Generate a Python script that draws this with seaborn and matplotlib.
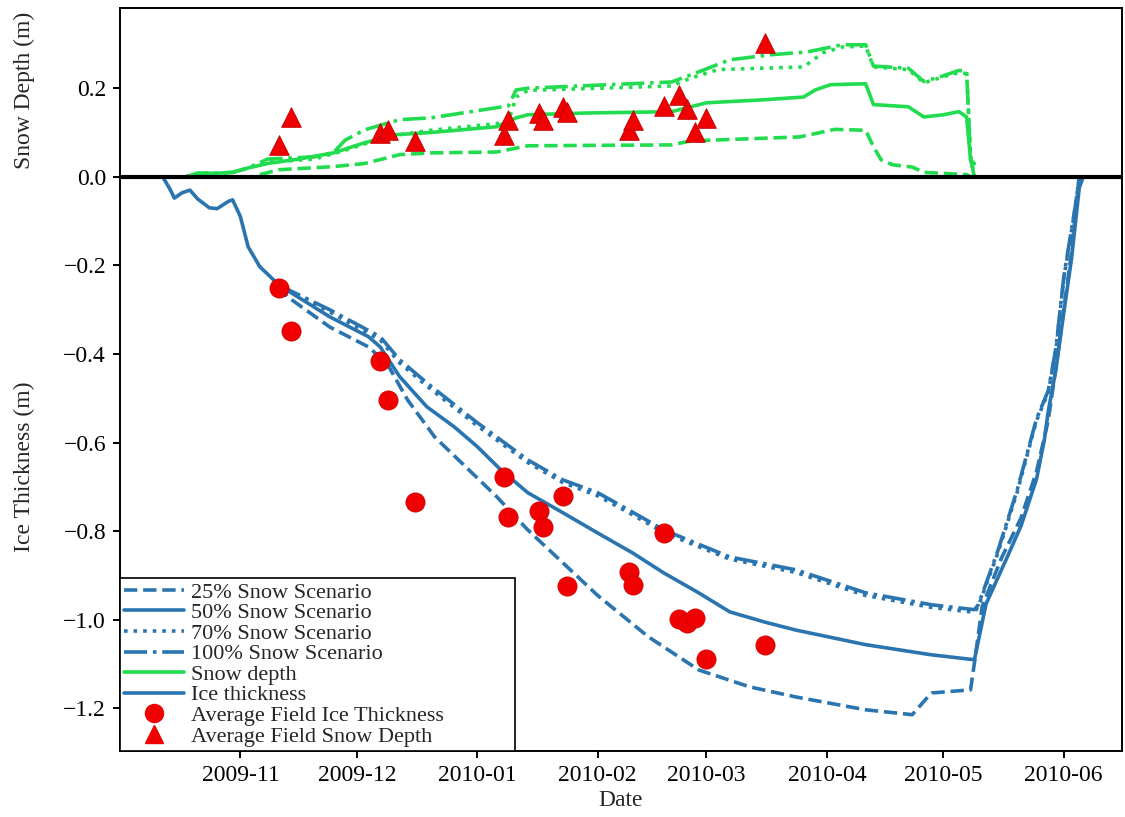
import numpy as np
import pandas as pd
import matplotlib
matplotlib.use("Agg")
import matplotlib.pyplot as plt
import matplotlib.dates as mdates
from matplotlib.lines import Line2D
import seaborn as sns

# ---------------- data ----------------
ice50_dates = ["2009-10-12", "2009-10-14", "2009-10-15", "2009-10-17", "2009-10-19", "2009-10-21",
               "2009-10-24", "2009-10-26", "2009-10-29", "2009-10-30", "2009-11-01", "2009-11-03",
               "2009-11-06", "2009-11-09", "2009-11-11", "2009-11-24", "2009-12-04", "2009-12-07",
               "2009-12-12", "2009-12-19", "2009-12-26", "2010-01-01", "2010-01-07", "2010-01-14",
               "2010-01-23", "2010-02-01", "2010-02-10", "2010-02-18", "2010-02-27", "2010-03-07",
               "2010-03-16", "2010-03-24", "2010-04-11", "2010-04-28", "2010-05-09", "2010-05-12",
               "2010-05-17", "2010-05-21", "2010-05-25", "2010-05-27", "2010-05-28", "2010-05-30",
               "2010-06-01", "2010-06-03", "2010-06-05", "2010-06-06"]
ice50 = [0.0, -0.03, -0.048, -0.036, -0.03, -0.05, -0.07, -0.072, -0.055, -0.052, -0.09, -0.158,
         -0.203, -0.228, -0.245, -0.316, -0.361, -0.384, -0.451, -0.519, -0.564, -0.609, -0.661, -0.713,
         -0.758, -0.804, -0.849, -0.894, -0.939, -0.982, -1.005, -1.023, -1.056, -1.079, -1.09, -0.964,
         -0.867, -0.788, -0.682, -0.594, -0.53, -0.434, -0.307, -0.185, -0.025, 0.0]

ice25_dates = ["2009-11-11", "2009-11-13", "2009-11-24", "2009-12-04", "2009-12-09", "2009-12-14",
               "2009-12-21", "2009-12-28", "2010-01-06", "2010-01-14", "2010-01-23", "2010-02-01",
               "2010-02-14", "2010-02-27", "2010-03-12", "2010-03-24", "2010-04-11", "2010-04-23",
               "2010-04-27", "2010-04-28", "2010-05-08", "2010-05-09", "2010-05-11", "2010-05-16",
               "2010-05-21", "2010-05-25", "2010-05-28", "2010-05-30", "2010-06-01", "2010-06-03",
               "2010-06-05"]
ice25 = [-0.245, -0.27, -0.339, -0.384, -0.425, -0.503, -0.587, -0.646, -0.722, -0.797, -0.871, -0.945,
         -1.038, -1.113, -1.151, -1.174, -1.203, -1.214, -1.174, -1.165, -1.158, -1.097, -0.97, -0.86,
         -0.77, -0.665, -0.55, -0.43, -0.30, -0.17, 0.0]

ice70_dates = ["2009-11-11", "2009-11-15", "2009-11-24", "2009-12-07", "2009-12-12", "2009-12-19",
               "2010-01-01", "2010-01-14", "2010-01-23", "2010-02-01", "2010-02-09", "2010-02-18",
               "2010-03-07", "2010-03-24", "2010-04-11", "2010-04-28", "2010-05-09", "2010-05-10",
               "2010-05-15", "2010-05-20", "2010-05-25", "2010-05-28", "2010-05-30", "2010-06-01",
               "2010-06-04", "2010-06-05"]
ice70 = [-0.245, -0.265, -0.305, -0.368, -0.42, -0.472, -0.562, -0.645, -0.69, -0.72, -0.758, -0.803,
         -0.863, -0.893, -0.945, -0.972, -0.983, -0.97, -0.85, -0.712, -0.55, -0.487, -0.39, -0.23,
         -0.068, 0.0]

ice100_dates = ice70_dates
ice100 = [-0.245, -0.262, -0.30, -0.361, -0.413, -0.465, -0.555, -0.639, -0.684, -0.713, -0.752, -0.797,
          -0.858, -0.887, -0.939, -0.966, -0.977, -0.966, -0.845, -0.707, -0.546, -0.483, -0.386, -0.226,
          -0.065, 0.0]

snow50_dates = ["2009-10-18", "2009-10-21", "2009-10-26", "2009-10-30", "2009-11-03", "2009-11-08",
                "2009-11-16", "2009-11-25", "2009-12-03", "2009-12-11", "2009-12-20", "2010-01-06",
                "2010-01-11", "2010-01-14", "2010-01-29", "2010-02-20", "2010-03-01", "2010-03-16",
                "2010-03-26", "2010-03-29", "2010-04-02", "2010-04-11", "2010-04-13", "2010-04-22",
                "2010-04-26", "2010-05-01", "2010-05-05", "2010-05-07", "2010-05-08", "2010-05-09"]
snow50 = [0.0, 0.008, 0.008, 0.01, 0.02, 0.03, 0.04, 0.054, 0.077, 0.095, 0.10, 0.113, 0.133, 0.14,
          0.144, 0.147, 0.167, 0.174, 0.18, 0.196, 0.208, 0.21, 0.163, 0.158, 0.135, 0.14, 0.147,
          0.135, 0.038, 0.03]

snow25_dates = ["2009-11-06", "2009-11-11", "2009-11-25", "2009-12-03", "2009-12-12", "2009-12-20",
                "2010-01-06", "2010-01-14", "2010-02-20", "2010-02-25", "2010-03-25", "2010-04-03",
                "2010-04-11", "2010-04-13", "2010-04-15", "2010-04-18", "2010-04-23", "2010-04-26",
                "2010-05-07", "2010-05-08"]
snow25 = [0.005, 0.016, 0.023, 0.03, 0.05, 0.054, 0.056, 0.07, 0.072, 0.081, 0.09, 0.107, 0.105,
          0.068, 0.038, 0.027, 0.022, 0.01, 0.005, 0.0]

snow70_dates = ["2009-10-18", "2009-10-21", "2009-10-26", "2009-10-30", "2009-11-03", "2009-11-08",
                "2009-11-20", "2009-11-28", "2009-12-05", "2009-12-12", "2009-12-20", "2010-01-06",
                "2010-01-09", "2010-01-11", "2010-01-14", "2010-02-20", "2010-02-25", "2010-03-04",
                "2010-03-26", "2010-03-31", "2010-04-05", "2010-04-11", "2010-04-13", "2010-04-22",
                "2010-04-26", "2010-05-01", "2010-05-05", "2010-05-07", "2010-05-08", "2010-05-09"]
snow70 = [0.0, 0.008, 0.008, 0.01, 0.02, 0.033, 0.04, 0.06, 0.08, 0.095, 0.105, 0.12, 0.125, 0.18,
          0.195, 0.205, 0.223, 0.242, 0.248, 0.28, 0.293, 0.295, 0.248, 0.242, 0.212, 0.226, 0.235,
          0.233, 0.05, 0.0]

snow100_dates = ["2009-10-18", "2009-10-21", "2009-10-26", "2009-10-30", "2009-11-03", "2009-11-08",
                 "2009-11-20", "2009-11-25", "2009-11-28", "2009-12-03", "2009-12-12", "2009-12-20",
                 "2010-01-06", "2010-01-09", "2010-01-11", "2010-01-14", "2010-02-20", "2010-02-25",
                 "2010-03-07", "2010-03-17", "2010-03-27", "2010-04-05", "2010-04-11", "2010-04-13",
                 "2010-04-22", "2010-04-26", "2010-05-01", "2010-05-05", "2010-05-07", "2010-05-08",
                 "2010-05-09"]
snow100 = [0.0, 0.008, 0.008, 0.01, 0.02, 0.04, 0.045, 0.055, 0.083, 0.106, 0.129, 0.133, 0.156, 0.16,
           0.196, 0.2, 0.214, 0.23, 0.264, 0.275, 0.282, 0.298, 0.298, 0.25, 0.245, 0.215, 0.228, 0.24,
           0.238, 0.04, 0.0]

field_dates = ["2009-11-11", "2009-11-14", "2009-12-07", "2009-12-09", "2009-12-16", "2010-01-08",
               "2010-01-09", "2010-01-17", "2010-01-18", "2010-01-23", "2010-01-24", "2010-02-09",
               "2010-02-10", "2010-02-18", "2010-02-22", "2010-02-24", "2010-02-26", "2010-03-01",
               "2010-03-16"]
field_ice = [-0.25, -0.348, -0.415, -0.503, -0.735, -0.677, -0.768, -0.754, -0.79, -0.72, -0.923,
             -0.892, -0.921, -0.804, -0.998, -1.007, -0.995, -1.088, -1.056]
field_snow = [0.072, 0.135, 0.099, 0.106, 0.081, 0.095, 0.129, 0.144, 0.129, 0.158, 0.147, 0.106,
              0.129, 0.160, 0.185, 0.153, 0.101, 0.133, 0.302]

legend_labels = ["25% Snow Scenario", "50% Snow Scenario", "70% Snow Scenario", "100% Snow Scenario",
                 "Snow depth", "Ice thickness", "Average Field Ice Thickness", "Average Field Snow Depth"]

# ---------------- style ----------------
sns.set_theme(style="ticks")
plt.rcParams["font.family"] = ["Liberation Serif", "DejaVu Serif"]
plt.rcParams["axes.unicode_minus"] = True

BLUE = "#2a75b0"
GREEN = "#22dc50"
RED = "#f00000"
LW = 2.6

fig = plt.figure(figsize=(11.25, 8.17), dpi=100)
ax = fig.add_axes([120 / 1125, 66 / 817, 1002 / 1125, 743 / 817])

def line(dates, vals, color, ls):
    df = pd.DataFrame({"date": pd.to_datetime(dates), "v": vals})
    sns.lineplot(data=df, x="date", y="v", ax=ax, color=color, linestyle=ls, lw=LW,
                 estimator=None, sort=False, legend=False)

# snow scenarios
line(snow25_dates, snow25, GREEN, "--")
line(snow50_dates, snow50, GREEN, "-")
line(snow70_dates, snow70, GREEN, ":")
line(snow100_dates, snow100, GREEN, "-.")

# ice scenarios
line(ice25_dates, ice25, BLUE, "--")
line(ice70_dates, ice70, BLUE, ":")
line(ice100_dates, ice100, BLUE, "-.")
line(ice50_dates, ice50, BLUE, "-")

ax.axhline(0, color="black", lw=3.0, zorder=3)

fdf = pd.DataFrame({"date": pd.to_datetime(field_dates), "ice": field_ice, "snow": field_snow})
sns.scatterplot(data=fdf, x="date", y="ice", ax=ax, marker="o", s=190, color=RED,
                edgecolor="#d00000", linewidth=0.6, zorder=5, legend=False)
sns.scatterplot(data=fdf, x="date", y="snow", ax=ax, marker="^", s=200, color=RED,
                edgecolor="#c00000", linewidth=0.6, zorder=5, legend=False)

# ---------------- axes ----------------
ax.set_xlim(pd.Timestamp("2009-10-01"), pd.Timestamp("2010-06-16"))
ax.set_ylim(-1.296, 0.381)
ax.set_yticks([-1.2, -1.0, -0.8, -0.6, -0.4, -0.2, 0.0, 0.2])
ax.xaxis.set_major_locator(mdates.MonthLocator(bymonth=[11, 12, 1, 2, 3, 4, 5, 6]))
ax.xaxis.set_major_formatter(mdates.DateFormatter("%Y-%m"))
ax.tick_params(direction="out", length=5, width=1.4, labelsize=17, colors="black", pad=5)
ax.set_xlabel("Date", fontsize=17, labelpad=3)
ax.set_ylabel("")
for sp in ax.spines.values():
    sp.set_color("black")
    sp.set_linewidth(1.4)

fig.text(24 / 1125, 1 - 90 / 817, "Snow Depth (m)", rotation=90, ha="center", va="center", fontsize=17)
fig.text(24 / 1125, 1 - 467 / 817, "Ice Thickness (m)", rotation=90, ha="center", va="center", fontsize=17)

handles = [
    Line2D([], [], color=BLUE, ls="--", lw=LW),
    Line2D([], [], color=BLUE, ls="-", lw=LW),
    Line2D([], [], color=BLUE, ls=":", lw=LW),
    Line2D([], [], color=BLUE, ls="-.", lw=LW),
    Line2D([], [], color=GREEN, ls="-", lw=LW),
    Line2D([], [], color=BLUE, ls="-", lw=LW),
    Line2D([], [], color=RED, marker="o", ls="none", markersize=13),
    Line2D([], [], color=RED, marker="^", ls="none", markersize=13),
]
leg = ax.legend(handles, legend_labels, loc="lower left", bbox_to_anchor=(0, 0, 395 / 1002, 0.3),
                mode="expand", borderaxespad=0, fontsize=16,
                frameon=True, fancybox=False, framealpha=1, edgecolor="black",
                labelspacing=0.0, handlelength=2.7, handletextpad=0.3, borderpad=0.2)
leg.get_frame().set_linewidth(1.2)

fig.savefig("out.png", dpi=100)
